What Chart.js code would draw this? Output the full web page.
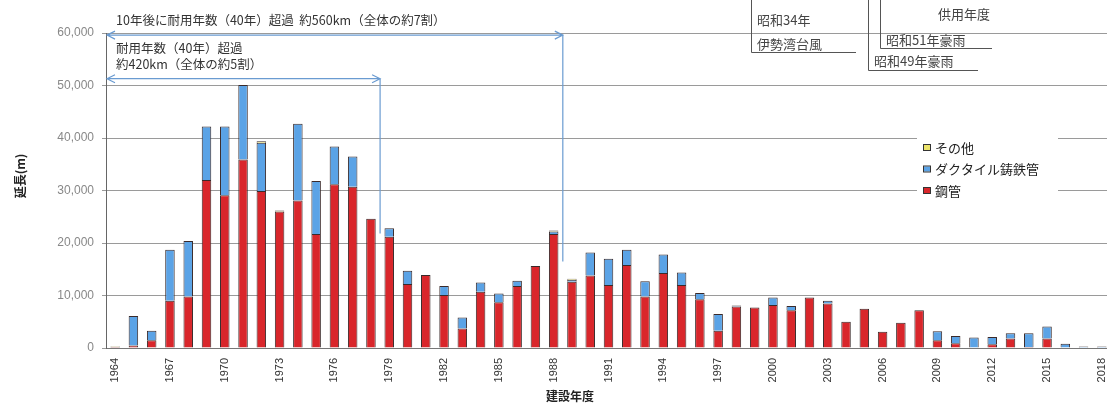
<!DOCTYPE html>
<html>
<head>
<meta charset="utf-8">
<script src="https://cdn.jsdelivr.net/npm/chart.js@4/dist/chart.umd.min.js"></script>
<style>
  html, body { margin: 0; padding: 0; background: #fff; overflow: hidden; }
  #wrap { width: 1107px; height: 403px; position: relative; overflow: hidden; }
</style>
</head>
<body>
<div id="wrap"><canvas id="c" width="1111" height="403"></canvas></div>
<script>
"use strict";

// 建設年度
const years = [];
for (let y = 1964; y <= 2018; y++) years.push(String(y));

// 鋼管 (m)
const steel = [
  200, 500, 1500, 9000, 9800, 32000, 29100, 35900, 29900, 26000,
  28100, 21700, 31200, 30700, 24600, 21200, 12200, 13900, 10100, 3700,
  10700, 8700, 11800, 15600, 21700, 12600, 13800, 12000, 15800, 9800,
  14300, 12000, 9300, 3300, 7900, 7700, 8200, 7200, 9600, 8500,
  5000, 7500, 3100, 4800, 7200, 1500, 900, 100, 700, 1800,
  200, 1800, 0, 100, 100
];

// ダクタイル鋳鉄管 (m)
const ductile = [
  0, 5600, 1800, 9700, 10600, 10200, 13100, 14200, 9200, 0,
  14600, 10100, 7200, 5800, 0, 1600, 2500, 0, 1700, 2100,
  1800, 1700, 1000, 0, 500, 400, 4400, 5000, 2900, 2900,
  3500, 2400, 1200, 3200, 200, 0, 1400, 800, 0, 500,
  0, 0, 0, 0, 0, 1700, 1400, 1900, 1400, 1000,
  2600, 2300, 800, 200, 200
];

// その他 (m)
const other = [
  100, 0, 0, 0, 0, 0, 0, 0, 300, 200,
  0, 0, 0, 0, 0, 0, 0, 0, 0, 0,
  0, 0, 0, 0, 200, 200, 0, 0, 0, 0,
  0, 0, 0, 0, 0, 0, 0, 0, 0, 0,
  0, 0, 0, 0, 0, 0, 0, 0, 0, 0,
  0, 0, 0, 0, 0
];

const yTicks = [0, 10000, 20000, 30000, 40000, 50000, 60000];

const RED = '#d9262b';
const BLUE = '#5ba3e6';
const YELLOW = '#ece46a';
const JP = '"Noto Sans CJK JP", "Noto Sans", sans-serif';

function arrow(ctx, x1, x2, y) {
  ctx.beginPath();
  ctx.moveTo(x1, y); ctx.lineTo(x2, y);
  ctx.moveTo(x1 + 8, y - 4); ctx.lineTo(x1, y); ctx.lineTo(x1 + 8, y + 4);
  ctx.moveTo(x2 - 8, y - 4); ctx.lineTo(x2, y); ctx.lineTo(x2 - 8, y + 4);
  ctx.stroke();
}

const notes = {
  id: 'notes',
  afterDraw(chart) {
    const ctx = chart.ctx;
    const xs = chart.scales.x, ys = chart.scales.y;
    const area = chart.chartArea;
    const half = (xs.getPixelForValue(1) - xs.getPixelForValue(0)) / 2;
    ctx.save();

    // 耐用年数 arrows
    ctx.strokeStyle = '#6a9bd1';
    ctx.lineWidth = 1.2;
    const x88 = xs.getPixelForValue(years.indexOf('1988')) + half;
    const x78 = xs.getPixelForValue(years.indexOf('1978')) + half;
    const yA = ys.getPixelForValue(59600), yB = ys.getPixelForValue(51300);
    arrow(ctx, area.left + 1, x88, yA);
    arrow(ctx, area.left + 1, x78, yB);
    ctx.beginPath();
    ctx.moveTo(x88, yA); ctx.lineTo(x88, ys.getPixelForValue(16500));
    ctx.moveTo(x78, yB); ctx.lineTo(x78, ys.getPixelForValue(21800));
    ctx.stroke();

    ctx.fillStyle = '#333';
    ctx.font = '12.5px ' + JP;
    ctx.textBaseline = 'middle';
    ctx.textAlign = 'left';
    ctx.fillText('10年後に耐用年数（40年）超過  約560km（全体の約7割）', 116, 20);
    ctx.fillText('耐用年数（40年）超過', 116, 48);
    ctx.fillText('約420km（全体の約5割）', 116, 64);

    // disaster boxes (top right)
    ctx.strokeStyle = '#555';
    ctx.lineWidth = 1;
    ctx.beginPath();
    ctx.moveTo(751.5, 0); ctx.lineTo(751.5, 52.5); ctx.lineTo(856, 52.5);
    ctx.moveTo(868.5, 0); ctx.lineTo(868.5, 70.5); ctx.lineTo(978, 70.5);
    ctx.moveTo(880.5, 0); ctx.lineTo(880.5, 48.5); ctx.lineTo(992, 48.5);
    ctx.stroke();
    ctx.fillStyle = '#444';
    ctx.font = '13px ' + JP;
    ctx.fillText('昭和34年', 757, 20);
    ctx.fillText('伊勢湾台風', 757, 44);
    ctx.fillText('昭和51年豪雨', 886, 40);
    ctx.fillText('昭和49年豪雨', 874, 61);
    ctx.textAlign = 'right';
    ctx.fillText('供用年度', 990, 14);

    // legend inside plot
    ctx.fillStyle = '#fff';
    ctx.fillRect(917, 134, 141, 68);
    const items = [['その他', YELLOW], ['ダクタイル鋳鉄管', BLUE], ['鋼管', RED]];
    ctx.textAlign = 'left';
    ctx.font = '13px ' + JP;
    items.forEach((it, i) => {
      const cy = 148 + i * 21.5;
      ctx.fillStyle = it[1];
      ctx.fillRect(924, cy - 3, 6, 5);
      ctx.strokeStyle = '#333';
      ctx.strokeRect(923.5, cy - 3.5, 7, 6);
      ctx.fillStyle = '#222';
      ctx.fillText(it[0], 935, cy);
    });

    // axis titles
    ctx.fillStyle = '#222';
    ctx.font = 'bold 12px ' + JP;
    ctx.textAlign = 'center';
    ctx.fillText('建設年度', 570, 396);
    ctx.translate(20, 176);
    ctx.rotate(-Math.PI / 2);
    ctx.fillText('延長(m)', 0, 0);
    ctx.restore();
  }
};

const dsBase = { borderColor: '#3a2a2a', borderWidth: 1, barPercentage: 0.52, categoryPercentage: 1 };

new Chart(document.getElementById('c'), {
  type: 'bar',
  data: {
    labels: years,
    datasets: [
      Object.assign({ label: '鋼管', data: steel, backgroundColor: RED }, dsBase),
      Object.assign({ label: 'ダクタイル鋳鉄管', data: ductile, backgroundColor: BLUE }, dsBase),
      Object.assign({ label: 'その他', data: other, backgroundColor: YELLOW }, dsBase)
    ]
  },
  options: {
    responsive: false,
    animation: false,
    layout: { padding: { top: 33, right: 0, left: 0, bottom: 0 } },
    plugins: { legend: { display: false }, tooltip: { enabled: false } },
    scales: {
      x: {
        stacked: true,
        grid: { display: false },
        border: { color: '#777' },
        ticks: {
          autoSkip: false, minRotation: 90, maxRotation: 90, padding: 2,
          color: '#333', font: { size: 11, family: 'Liberation Sans, Arial, sans-serif' },
          callback: function (v, i) { return (i % 3 === 0) ? years[i] : ''; }
        },
        afterFit: function (s) { s.height = 55; s.paddingLeft = 0; s.paddingRight = 0; }
      },
      y: {
        stacked: true,
        min: 0, max: 60000,
        afterBuildTicks: function (s) { s.ticks = yTicks.map(v => ({ value: v })); },
        grid: { color: '#9a9a9a', tickLength: 4 },
        border: { color: '#666' },
        ticks: {
          color: '#888', padding: 8,
          font: { size: 12, family: 'Liberation Sans, Arial, sans-serif' },
          callback: function (v) { return v.toLocaleString('en-US'); }
        },
        afterFit: function (s) { s.width = 106; }
      }
    }
  },
  plugins: [notes]
});
</script>
</body>
</html>
